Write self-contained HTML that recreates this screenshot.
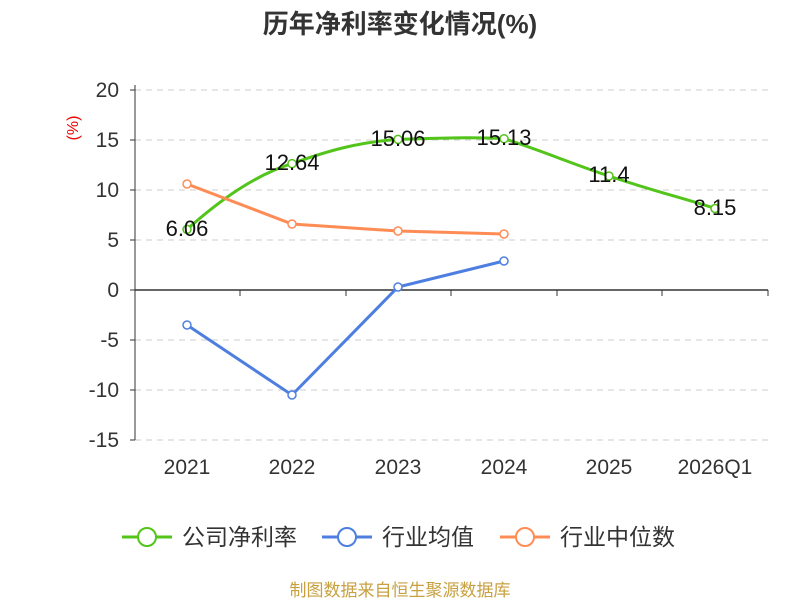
<!DOCTYPE html>
<html><head><meta charset="utf-8"><style>
html,body{margin:0;padding:0;background:#fff;}
svg{display:block;font-family:"Liberation Sans","Noto Sans CJK SC",sans-serif;}
</style></head><body>
<svg width="800" height="600" viewBox="0 0 800 600">
<text x="400" y="33" text-anchor="middle" font-size="26" font-weight="bold" fill="#333">历年净利率变化情况(%)</text>
<g stroke="#ccc" stroke-dasharray="6,5" stroke-width="1">
<line x1="135" y1="90" x2="768" y2="90"/><line x1="135" y1="140" x2="768" y2="140"/>
<line x1="135" y1="190" x2="768" y2="190"/><line x1="135" y1="240" x2="768" y2="240"/>
<line x1="135" y1="340" x2="768" y2="340"/><line x1="135" y1="390" x2="768" y2="390"/>
<line x1="135" y1="440" x2="768" y2="440"/>
</g>
<line x1="135" y1="290" x2="768" y2="290" stroke="#333" stroke-width="1.5"/>
<line x1="135" y1="85" x2="135" y2="440" stroke="#333" stroke-width="1"/>
<g stroke="#333"><line x1="130" y1="90" x2="135" y2="90"/><line x1="130" y1="140" x2="135" y2="140"/><line x1="130" y1="190" x2="135" y2="190"/><line x1="130" y1="240" x2="135" y2="240"/><line x1="130" y1="290" x2="135" y2="290"/><line x1="130" y1="340" x2="135" y2="340"/><line x1="130" y1="390" x2="135" y2="390"/><line x1="130" y1="440" x2="135" y2="440"/>
<line x1="135" y1="290" x2="135" y2="296"/><line x1="240" y1="290" x2="240" y2="296"/><line x1="346" y1="290" x2="346" y2="296"/><line x1="451" y1="290" x2="451" y2="296"/><line x1="557" y1="290" x2="557" y2="296"/><line x1="662" y1="290" x2="662" y2="296"/><line x1="768" y1="290" x2="768" y2="296"/></g>
<g font-size="21" fill="#333" text-anchor="end">
<text x="119" y="97">20</text><text x="119" y="147">15</text><text x="119" y="197">10</text><text x="119" y="247">5</text><text x="119" y="297">0</text><text x="119" y="347">-5</text><text x="119" y="397">-10</text><text x="119" y="447">-15</text></g>
<text x="78" y="128" font-size="16" fill="#e00" text-anchor="middle" transform="rotate(-90 78 128)">(%)</text>
<g font-size="21" fill="#333" text-anchor="middle">
<text x="187" y="474">2021</text><text x="292" y="474">2022</text><text x="398" y="474">2023</text><text x="504" y="474">2024</text><text x="609" y="474">2025</text><text x="715" y="474">2026Q1</text></g>
<path d="M187,229.4 C220,200 255,175 292,163.6 C330,150 360,142 398,139.4 C440,138 475,137 504,138.7 C540,150 575,165 609,176 C650,190 690,200 715,208.5" fill="none" stroke="#52c41a" stroke-width="3"/>
<polyline points="187,325 292,395 398,287 504,261" fill="none" stroke="#4e7fe0" stroke-width="3"/>
<polyline points="187,184 292,224 398,231 504,234" fill="none" stroke="#ff8c55" stroke-width="3"/>
<g fill="#fff" stroke-width="1.5">
<g stroke="#52c41a"><circle cx="187" cy="229.4" r="4"/><circle cx="292" cy="163.6" r="4"/><circle cx="398" cy="139.4" r="4"/><circle cx="504" cy="138.7" r="4"/><circle cx="609" cy="176" r="4"/><circle cx="715" cy="208.5" r="4"/></g>
<g stroke="#4e7fe0"><circle cx="187" cy="325" r="4"/><circle cx="292" cy="395" r="4"/><circle cx="398" cy="287" r="4"/><circle cx="504" cy="261" r="4"/></g>
<g stroke="#ff8c55"><circle cx="187" cy="184" r="4"/><circle cx="292" cy="224" r="4"/><circle cx="398" cy="231" r="4"/><circle cx="504" cy="234" r="4"/></g>
</g>
<g font-size="22" fill="#111" text-anchor="middle">
<text x="187" y="236">6.06</text><text x="292" y="170">12.64</text><text x="398" y="146">15.06</text><text x="504" y="145">15.13</text><text x="609" y="182">11.4</text><text x="715" y="215">8.15</text></g>
<g font-size="23" fill="#333">
<line x1="122" y1="537" x2="172" y2="537" stroke="#52c41a" stroke-width="3"/><circle cx="147" cy="537" r="9" fill="#fff" stroke="#52c41a" stroke-width="2"/>
<text x="182" y="545">公司净利率</text>
<line x1="322" y1="537" x2="372" y2="537" stroke="#4e7fe0" stroke-width="3"/><circle cx="347" cy="537" r="9" fill="#fff" stroke="#4e7fe0" stroke-width="2"/>
<text x="382" y="545">行业均值</text>
<line x1="500" y1="537" x2="550" y2="537" stroke="#ff8c55" stroke-width="3"/><circle cx="525" cy="537" r="9" fill="#fff" stroke="#ff8c55" stroke-width="2"/>
<text x="560" y="545">行业中位数</text></g>
<text x="400" y="596" text-anchor="middle" font-size="17" fill="#c8a040">制图数据来自恒生聚源数据库</text>
</svg>
</body></html>
